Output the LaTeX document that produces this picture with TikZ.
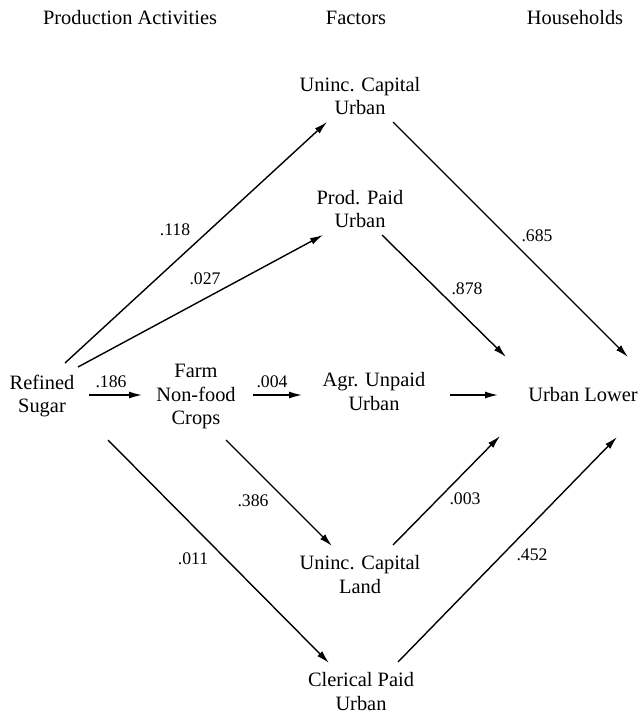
\documentclass[tikz,border=0pt]{standalone}
\usepackage{fontspec}
\setmainfont{Liberation Serif}
\usetikzlibrary{arrows.meta}

\begin{document}
\begin{tikzpicture}[x=1pt, y=-1pt,
	lbl/.style={font=\fontsize{20.4}{23.5}\selectfont, align=center, inner sep=0pt},
	val/.style={font=\fontsize{17.7}{20}\selectfont, inner sep=0pt},
	arr/.style={-{Latex[length=13pt,width=7pt]}, line width=1.4pt}]
		\useasboundingbox (0,0) rectangle (639,716);
		
		% column heads
		\node[lbl] (hpa) at (130,18) {Production Activities};
		\node[lbl] (hfa) at (356,18) {Factors};
		\node[lbl] (hho) at (575,18) {Households};
		
		\node[lbl] (rs) at (42,396) {Refined\\Sugar};
		\node[lbl] (fnc) at (196,396.5) {Farm\\Non-food\\Crops};
		\node[lbl] (ucu) at (360,96) {Uninc. Capital\\Urban};
		\node[lbl] (ppu) at (360,209) {Prod. Paid\\Urban};
		\node[lbl] (auu) at (374,391.5) {Agr. Unpaid\\Urban};
		\node[lbl] (ucl) at (360,574.5) {Uninc. Capital\\Land};
		\node[lbl] (cpu) at (361,691.5) {Clerical Paid\\Urban};
		\node[lbl] (ul) at (583,395) {Urban Lower};
		
		\draw[arr] ([shift={(23,-33)}]rs.center) -- ([shift={(-33,26)}]ucu.center);
		\draw[arr] ([shift={(36,-29)}]rs.center) -- ([shift={(-37,26)}]ppu.center);
		\draw[arr] ([shift={(47,-1)}]rs.center) -- ([shift={(-54,-1.5)}]fnc.center);
		\draw[arr] ([shift={(66,44)}]rs.center) -- ([shift={(-32,-28.5)}]cpu.center);
		\draw[arr] ([shift={(57,-1.5)}]fnc.center) -- ([shift={(-72,3.5)}]auu.center);
		\draw[arr] ([shift={(30,43.5)}]fnc.center) -- ([shift={(-28,-28.5)}]ucl.center);
		
		\draw[arr] ([shift={(33,26)}]ucu.center) -- ([shift={(45,-38)}]ul.center);
		\draw[arr] ([shift={(22,26)}]ppu.center) -- ([shift={(-77,-38)}]ul.center);
		\draw[arr] ([shift={(76,3.5)}]auu.center) -- ([shift={(-85,0)}]ul.center);
		\draw[arr] ([shift={(33,-29.5)}]ucl.center) -- ([shift={(-83,41)}]ul.center);
		\draw[arr] ([shift={(37,-29.5)}]cpu.center) -- ([shift={(34,42)}]ul.center);
		
		% coefficients
		\node[val] (v118) at (175,230) {.118};
		\node[val] (v027) at (205,279) {.027};
		\node[val] (v186) at (111,382) {.186};
		\node[val] (v004) at (272,382) {.004};
		\node[val] (v011) at (193,559) {.011};
		\node[val] (v386) at (253,501) {.386};
		\node[val] (v685) at (537,236) {.685};
		\node[val] (v878) at (467,289) {.878};
		\node[val] (v003) at (465,499) {.003};
		\node[val] (v452) at (532,555) {.452};
		
\end{tikzpicture}
\end{document}
